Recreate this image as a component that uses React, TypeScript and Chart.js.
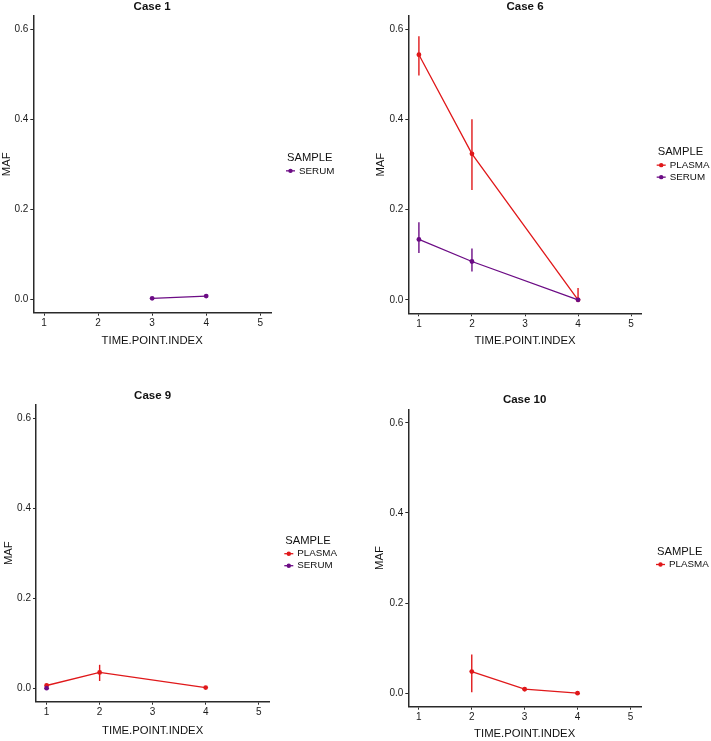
import React, { useEffect, useRef } from "react";
import { Chart, registerables } from "chart.js";

Chart.register(...registerables);

// ---------- data ----------
const TIME_POINTS = [1, 2, 3, 4];
const X_TICKS = [1, 2, 3, 4, 5];
const Y_TICKS = [0, 0.2, 0.4, 0.6];
const X_RANGE = [0.8, 5.2];
const Y_RANGE = [-0.03, 0.63];
const LEGEND_TITLE = "SAMPLE";
const X_TITLE = "TIME.POINT.INDEX";
const Y_TITLE = "MAF";

const case1Serum = [null, null, 0.002, 0.007];

const case6Plasma = [0.544, 0.324, null, 0.0];
const case6PlasmaLow = [0.498, 0.244, null, 0.0];
const case6PlasmaHigh = [0.585, 0.401, null, 0.026];
const case6Serum = [0.134, 0.085, null, 0.0];
const case6SerumLow = [0.104, 0.063, null, null];
const case6SerumHigh = [0.172, 0.114, null, null];

const case9Plasma = [0.006, 0.035, null, 0.0015];
const case9PlasmaLow = [null, 0.016, null, null];
const case9PlasmaHigh = [null, 0.052, null, null];
const case9Serum = [0.0, null, null, null];

const case10Plasma = [null, 0.048, 0.009, 0.0];
const case10PlasmaLow = [null, 0.002, 0.004, null];
const case10PlasmaHigh = [null, 0.086, 0.013, null];

const RED = "#E0181A";
const PURPLE = "#6C0C85";
const FONT = "'Liberation Sans', Arial, Helvetica, sans-serif";

type Series = {
  label: string;
  color: string;
  values: (number | null)[];
  low?: (number | null)[];
  high?: (number | null)[];
};

type Geo = {
  left: number;
  top: number;
  width: number;
  height: number;
  yW: number;
  xH: number;
  pr: number;
  titlePadTop: number;
  titlePadBottom: number;
  yTitlePad: number;
  xTitlePad: number;
};

const PANELS: { title: string; geo: Geo; series: Series[] }[] = [
  {
    title: "Case 1",
    geo: { left: 0, top: 0, width: 355, height: 370, yW: 33.3, xH: 57.3, pr: 84, titlePadTop: 0, titlePadBottom: 2.2, yTitlePad: 0.1, xTitlePad: 22.7 },
    series: [{ label: "SERUM", color: PURPLE, values: case1Serum }],
  },
  {
    title: "Case 6",
    geo: { left: 355, top: 0, width: 356, height: 370, yW: 53.3, xH: 56.7, pr: 69.3, titlePadTop: 0.1, titlePadBottom: 2.1, yTitlePad: 19.4, xTitlePad: 22.1 },
    series: [
      { label: "PLASMA", color: RED, values: case6Plasma, low: case6PlasmaLow, high: case6PlasmaHigh },
      { label: "SERUM", color: PURPLE, values: case6Serum, low: case6SerumLow, high: case6SerumHigh },
    ],
  },
  {
    title: "Case 9",
    geo: { left: 0, top: 370, width: 355, height: 371, yW: 36, xH: 39.3, pr: 85.7, titlePadTop: 18.8, titlePadBottom: 2.1, yTitlePad: 1.7, xTitlePad: 3.7 },
    series: [
      { label: "PLASMA", color: RED, values: case9Plasma, low: case9PlasmaLow, high: case9PlasmaHigh },
      { label: "SERUM", color: PURPLE, values: case9Serum },
    ],
  },
  {
    title: "Case 10",
    geo: { left: 355, top: 370, width: 356, height: 371, yW: 53.3, xH: 34.3, pr: 70, titlePadTop: 23.1, titlePadBottom: 2.4, yTitlePad: 18.4, xTitlePad: 0 },
    series: [{ label: "PLASMA", color: RED, values: case10Plasma, low: case10PlasmaLow, high: case10PlasmaHigh }],
  },
];

function Panel({ title, geo, series }: { title: string; geo: Geo; series: Series[] }) {
  const ref = useRef<HTMLCanvasElement>(null);

  useEffect(() => {
    if (!ref.current) return;

    const errorBarPlugin = {
      id: "errorBars",
      beforeDatasetsDraw(chart: any) {
        const ctx = chart.ctx;
        const xs = chart.scales.x;
        const ys = chart.scales.y;
        series.forEach((s) => {
          if (!s.low || !s.high) return;
          TIME_POINTS.forEach((t, j) => {
            const lo = s.low![j];
            const hi = s.high![j];
            if (lo == null || hi == null) return;
            const px = xs.getPixelForValue(t);
            ctx.save();
            ctx.strokeStyle = s.color;
            ctx.lineWidth = 1.4;
            ctx.beginPath();
            ctx.moveTo(px, ys.getPixelForValue(lo));
            ctx.lineTo(px, ys.getPixelForValue(hi));
            ctx.stroke();
            ctx.restore();
          });
        });
      },
    };

    const legendPlugin = {
      id: "ggLegend",
      afterDraw(chart: any) {
        const ctx = chart.ctx;
        const a = chart.chartArea;
        const n = series.length;
        const cy = (a.top + a.bottom) / 2;
        const titleY = cy - 6.5 - 6 * (n - 1);
        const L = a.right + 15;
        ctx.save();
        ctx.textBaseline = "middle";
        ctx.textAlign = "left";
        ctx.fillStyle = "#111";
        ctx.font = `11.2px ${FONT}`;
        ctx.fillText(LEGEND_TITLE, L + 1, titleY);
        series.forEach((s, i) => {
          const y = titleY + 13 + 12 * i;
          ctx.strokeStyle = s.color;
          ctx.lineWidth = 1.3;
          ctx.beginPath();
          ctx.moveTo(L, y);
          ctx.lineTo(L + 9, y);
          ctx.stroke();
          ctx.fillStyle = s.color;
          ctx.beginPath();
          ctx.arc(L + 4.5, y, 2.2, 0, Math.PI * 2);
          ctx.fill();
          ctx.fillStyle = "#111";
          ctx.font = `9.8px ${FONT}`;
          ctx.fillText(s.label, L + 13, y);
        });
        ctx.restore();
      },
    };

    const datasets = series.map((s) => ({
      label: s.label,
      data: TIME_POINTS.map((x, j) => ({ x, y: s.values[j] })).filter((p) => p.y !== null),
      borderColor: s.color,
      backgroundColor: s.color,
      pointBackgroundColor: s.color,
      pointBorderWidth: 0,
      pointRadius: 2.4,
      borderWidth: 1.3,
      tension: 0,
      order: s.label === "SERUM" ? 0 : 1,
    }));

    const axisCommon = {
      border: { display: true, color: "#2a2a2a", width: 1.5 },
      grid: { display: true, drawOnChartArea: false, drawTicks: true, tickLength: 3, color: "#2a2a2a", lineWidth: 1 },
    };

    const chart = new Chart(ref.current, {
      type: "line",
      data: { datasets: datasets as any },
      plugins: [errorBarPlugin, legendPlugin],
      options: {
        animation: false,
        responsive: false,
        devicePixelRatio: 1,
        layout: { padding: { left: 0, top: 0, bottom: 0, right: geo.pr } },
        plugins: {
          legend: { display: false },
          tooltip: { enabled: false },
          title: {
            display: true,
            text: title,
            fullSize: false,
            color: "#111",
            font: { family: FONT, size: 11.5, weight: "bold" },
            padding: { top: geo.titlePadTop, bottom: geo.titlePadBottom },
          },
        },
        scales: {
          x: {
            type: "linear",
            min: X_RANGE[0],
            max: X_RANGE[1],
            ...axisCommon,
            afterBuildTicks: (scale: any) => {
              scale.ticks = X_TICKS.map((v) => ({ value: v }));
            },
            afterFit: (scale: any) => {
              scale.height = geo.xH;
            },
            ticks: {
              color: "#1a1a1a",
              padding: 2,
              maxRotation: 0,
              autoSkip: false,
              font: { family: FONT, size: 10 },
              callback: (v: any) => String(v),
            },
            title: {
              display: true,
              text: X_TITLE,
              color: "#111",
              font: { family: FONT, size: 11.3 },
              padding: { top: 0, bottom: geo.xTitlePad },
            },
          },
          y: {
            type: "linear",
            min: Y_RANGE[0],
            max: Y_RANGE[1],
            ...axisCommon,
            afterBuildTicks: (scale: any) => {
              scale.ticks = Y_TICKS.map((v) => ({ value: v }));
            },
            afterFit: (scale: any) => {
              scale.width = geo.yW;
            },
            ticks: {
              color: "#1a1a1a",
              padding: 2,
              autoSkip: false,
              font: { family: FONT, size: 10 },
              callback: (v: any) => Number(v).toFixed(1),
            },
            title: {
              display: true,
              text: Y_TITLE,
              color: "#111",
              font: { family: FONT, size: 11.3 },
              padding: { top: geo.yTitlePad, bottom: 0 },
            },
          },
        },
      } as any,
    });
    return () => chart.destroy();
  }, []);

  return (
    <canvas
      ref={ref}
      width={geo.width}
      height={geo.height}
      style={{ position: "absolute", left: geo.left, top: geo.top, width: geo.width, height: geo.height }}
    />
  );
}

export default function App() {
  return (
    <div style={{ position: "absolute", left: 0, top: 0, width: 711, height: 741, background: "#fff", overflow: "hidden" }}>
      {PANELS.map((p) => (
        <Panel key={p.title} title={p.title} geo={p.geo} series={p.series} />
      ))}
    </div>
  );
}
